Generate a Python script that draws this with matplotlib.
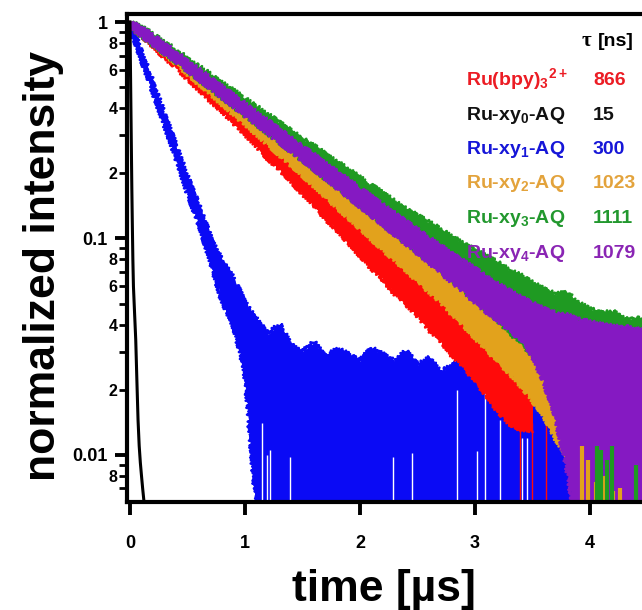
import matplotlib

matplotlib.use("Agg")
import matplotlib.pyplot as plt
from matplotlib.ticker import FixedLocator, FixedFormatter

plt.rcParams["font.family"] = ["Liberation Sans", "DejaVu Sans"]
plt.rcParams["font.weight"] = "bold"
plt.rcParams["mathtext.fontset"] = "custom"
plt.rcParams["mathtext.rm"] = "Liberation Sans:bold"
plt.rcParams["mathtext.it"] = "Liberation Sans:bold"
plt.rcParams["mathtext.bf"] = "Liberation Sans:bold"
plt.rcParams["mathtext.default"] = "rm"

# --- decay traces (time in us, normalized intensity) ---
# each noisy trace is kept as an upper and a lower envelope

T_BLACK = [0, 0.004, 0.008, 0.012, 0.016, 0.02, 0.025, 0.03, 0.04, 0.05,
           0.06, 0.07, 0.08, 0.09, 0.10, 0.11, 0.12]
BLACK = [1.0, 0.62, 0.4, 0.26, 0.17, 0.12, 0.08, 0.06, 0.045, 0.034,
         0.022, 0.0145, 0.011, 0.0092, 0.008, 0.007, 0.0062]

T_BLUE = [0.0, 0.1, 0.2, 0.3, 0.4, 0.5, 0.6, 0.7, 0.8, 0.9,
          1.0, 1.1, 1.2, 1.3, 1.4, 1.5, 1.6, 1.7, 1.8, 1.9,
          2.0, 2.1, 2.2, 2.3, 2.4, 2.5, 2.6, 2.7, 2.8, 2.9,
          3.0, 3.1, 3.2, 3.3, 3.4, 3.5, 3.6, 3.7, 3.8, 3.9, 4.0]
BLUE_HI = [1.0, 0.72, 0.52, 0.37, 0.265, 0.19, 0.14, 0.1, 0.078, 0.065,
           0.05, 0.042, 0.036, 0.04, 0.032, 0.03, 0.033, 0.028, 0.031, 0.029,
           0.027, 0.031, 0.029, 0.027, 0.03, 0.026, 0.028, 0.024, 0.026, 0.027,
           0.023, 0.025, 0.024, 0.021, 0.024, 0.022, 0.02, 0.022, 0.019, 0.02, 0.017]
BLUE_LO = [0.97, 0.68, 0.48, 0.34, 0.24, 0.165, 0.118, 0.08, 0.052, 0.04,
           0.025, 0.006, 0.004, 0.004, 0.004, 0.004, 0.004, 0.004, 0.004, 0.004,
           0.004, 0.004, 0.004, 0.004, 0.004, 0.004, 0.004, 0.004, 0.004, 0.004,
           0.004, 0.004, 0.004, 0.004, 0.004, 0.004, 0.004, 0.004, 0.004, 0.004, 0.004]
# dropped-out channels in the blue tail (white gaps)
BLUE_GAP_T = [1.15, 1.19, 1.22, 1.39, 2.29, 2.45, 2.84, 3.02, 3.09, 3.22, 3.41, 3.45]
BLUE_GAP_TOP = [0.014, 0.01, 0.0105, 0.0098, 0.0098, 0.0102, 0.02, 0.0104, 0.022,
                0.0145, 0.012, 0.012]

T_RED = T_BLUE[:36]
RED_HI = [1.0, 0.92, 0.82, 0.74, 0.66, 0.59, 0.53, 0.475, 0.43, 0.38,
          0.345, 0.31, 0.275, 0.25, 0.225, 0.2, 0.182, 0.16, 0.146, 0.132,
          0.118, 0.104, 0.097, 0.085, 0.078, 0.07, 0.062, 0.057, 0.05, 0.047,
          0.041, 0.039, 0.034, 0.033, 0.03, 0.028]
RED_LO = [0.96, 0.87, 0.78, 0.69, 0.62, 0.55, 0.49, 0.435, 0.39, 0.345,
          0.305, 0.27, 0.235, 0.21, 0.185, 0.162, 0.144, 0.124, 0.11, 0.096,
          0.084, 0.073, 0.065, 0.056, 0.05, 0.044, 0.038, 0.034, 0.029, 0.026,
          0.022, 0.019, 0.016, 0.014, 0.013, 0.013]
# red channels that drop to zero near the end of the trace
RED_DROP_T = [3.39, 3.5, 3.62]

T_LONG = T_BLUE + [4.1, 4.2, 4.3, 4.4, 4.5]

T_ORANGE = T_LONG[:44]
ORANGE_HI = [1.0, 0.93, 0.84, 0.76, 0.685, 0.62, 0.56, 0.505, 0.46, 0.415,
             0.375, 0.34, 0.31, 0.28, 0.252, 0.23, 0.207, 0.188, 0.17, 0.154,
             0.14, 0.126, 0.115, 0.104, 0.094, 0.086, 0.078, 0.071, 0.064, 0.058,
             0.052, 0.047, 0.042, 0.038, 0.034, 0.029, 0.025, 0.021, 0.018, 0.013,
             0.011, 0.009, 0.0085, 0.007]
ORANGE_LO = [0.96, 0.88, 0.795, 0.715, 0.645, 0.58, 0.52, 0.47, 0.42, 0.378,
             0.34, 0.305, 0.274, 0.245, 0.22, 0.197, 0.176, 0.157, 0.14, 0.125,
             0.112, 0.1, 0.089, 0.08, 0.072, 0.064, 0.057, 0.051, 0.045, 0.04,
             0.035, 0.031, 0.027, 0.024, 0.021, 0.018, 0.015, 0.012, 0.01, 0.006,
             0.004, 0.004, 0.004, 0.004]
# late orange counts poking out at the bottom of the purple trace
ORANGE_SPIKE_T = [3.93, 3.98, 4.05, 4.12, 4.2, 4.26]
ORANGE_SPIKE_TOP = [0.011, 0.0095, 0.0075, 0.008, 0.0068, 0.007]

T_GREEN = T_LONG
GREEN_HI = [1.0, 0.95, 0.875, 0.805, 0.74, 0.675, 0.62, 0.57, 0.52, 0.48,
            0.44, 0.405, 0.372, 0.342, 0.313, 0.288, 0.266, 0.244, 0.225, 0.207,
            0.19, 0.175, 0.161, 0.148, 0.136, 0.127, 0.118, 0.11, 0.101, 0.095,
            0.088, 0.082, 0.077, 0.071, 0.067, 0.062, 0.058, 0.055, 0.056, 0.05,
            0.047, 0.045, 0.046, 0.042, 0.043, 0.04]
GREEN_LO = [0.95, 0.87, 0.79, 0.72, 0.655, 0.6, 0.545, 0.495, 0.45, 0.41,
            0.372, 0.338, 0.307, 0.28, 0.254, 0.231, 0.21, 0.19, 0.173, 0.157,
            0.142, 0.129, 0.117, 0.106, 0.096, 0.087, 0.079, 0.071, 0.064, 0.058,
            0.052, 0.047, 0.042, 0.037, 0.033, 0.029, 0.025, 0.021, 0.017, 0.012,
            0.008, 0.005, 0.004, 0.004, 0.004, 0.004]
GREEN_SPIKE_T = [4.06, 4.1, 4.15, 4.19, 4.4]
GREEN_SPIKE_TOP = [0.011, 0.0105, 0.0095, 0.011, 0.009]

T_PURPLE = T_LONG
PURPLE_HI = [1.0, 0.94, 0.865, 0.79, 0.722, 0.657, 0.6, 0.547, 0.5, 0.456,
             0.416, 0.38, 0.347, 0.317, 0.289, 0.264, 0.242, 0.221, 0.202, 0.185,
             0.169, 0.155, 0.142, 0.13, 0.119, 0.109, 0.1, 0.092, 0.085, 0.078,
             0.072, 0.066, 0.061, 0.057, 0.053, 0.05, 0.047, 0.045, 0.044, 0.042,
             0.041, 0.04, 0.039, 0.039, 0.038, 0.037]
PURPLE_LO = [0.95, 0.875, 0.795, 0.725, 0.66, 0.6, 0.545, 0.497, 0.452, 0.41,
             0.373, 0.339, 0.308, 0.28, 0.254, 0.231, 0.21, 0.19, 0.172, 0.156,
             0.141, 0.128, 0.116, 0.105, 0.095, 0.086, 0.078, 0.07, 0.063, 0.057,
             0.051, 0.046, 0.042, 0.038, 0.034, 0.029, 0.022, 0.015, 0.009, 0.004,
             0.004, 0.004, 0.004, 0.004, 0.004, 0.004]

NAMES = [r"Ru(bpy)$_{3}{}^{2+}$", r"Ru-xy$_{0}$-AQ", r"Ru-xy$_{1}$-AQ",
         r"Ru-xy$_{2}$-AQ", r"Ru-xy$_{3}$-AQ", r"Ru-xy$_{4}$-AQ"]
TAUS = ["866", "15", "300", "1023", "1111", "1079"]

Y_MAJOR = [0.01, 0.1, 1]
Y_MAJOR_LABELS = ["0.01", "0.1", "1"]
Y_MINOR = [0.007, 0.008, 0.009,
           0.02, 0.03, 0.04, 0.05, 0.06, 0.07, 0.08, 0.09,
           0.2, 0.3, 0.4, 0.5, 0.6, 0.7, 0.8, 0.9]
Y_MINOR_LABELS = ["", "8", "",
                  "2", "", "4", "", "6", "", "8", "",
                  "2", "", "4", "", "6", "", "8", ""]
X_TICKS = [0, 1, 2, 3, 4]

RED = "#ff0a0a"
BLUE = "#0a0af5"
ORANGE = "#e2a21c"
GREEN = "#1f9a22"
PURPLE = "#8519c2"
TEXT_COLORS = ["#ec1c24", "#111111", "#1616d8", "#e3a33c", "#22982e", "#8a25b4"]

W, H = 642, 610


def band(ax, t, lo, hi, color, z):
    # solid band plus jittery edges so it reads like a photon-counting trace
    ax.fill_between(t, lo, hi, color=color, lw=0, zorder=z)
    for edge in (hi, lo):
        (ln,) = ax.plot(t, edge, color=color, lw=1.8, zorder=z)
        ln.set_sketch_params(scale=2.5, length=3, randomness=2)


fig = plt.figure(figsize=(W / 100, H / 100), dpi=100)
ax = fig.add_axes([127 / W, 1 - 502 / H, (659 - 127) / W, (502 - 14) / H])

band(ax, T_BLUE, BLUE_LO, BLUE_HI, BLUE, 1)
ax.vlines(BLUE_GAP_T, 0.004, BLUE_GAP_TOP, color="white", lw=1.0, zorder=1.5)
band(ax, T_RED, RED_LO, RED_HI, RED, 2)
ax.vlines(RED_DROP_T, 0.004, 0.014, color=RED, lw=1.0, zorder=2)
band(ax, T_ORANGE, ORANGE_LO, ORANGE_HI, ORANGE, 3)
band(ax, T_GREEN, GREEN_LO, GREEN_HI, GREEN, 4)
band(ax, T_PURPLE, PURPLE_LO, PURPLE_HI, PURPLE, 5)
ax.vlines(ORANGE_SPIKE_T, 0.004, ORANGE_SPIKE_TOP, color=ORANGE, lw=3, zorder=5.5)
ax.vlines(GREEN_SPIKE_T, 0.004, GREEN_SPIKE_TOP, color=GREEN, lw=3, zorder=5.5)
ax.plot(T_BLACK, BLACK, color="black", lw=2.2, zorder=6)

ax.set_yscale("log")
ax.set_xlim(-0.026, 4.6)
ax.set_ylim(0.00605, 1.09)

for side in ("left", "bottom", "top"):
    ax.spines[side].set_linewidth(3)
    ax.spines[side].set_zorder(10)
ax.spines["right"].set_visible(False)

ax.xaxis.set_major_locator(FixedLocator(X_TICKS))
ax.xaxis.set_major_formatter(FixedFormatter([str(v) for v in X_TICKS]))
ax.yaxis.set_major_locator(FixedLocator(Y_MAJOR))
ax.yaxis.set_major_formatter(FixedFormatter(Y_MAJOR_LABELS))
ax.yaxis.set_minor_locator(FixedLocator(Y_MINOR))
ax.yaxis.set_minor_formatter(FixedFormatter(Y_MINOR_LABELS))

ax.tick_params(axis="both", which="major", direction="out", length=9, width=2.8,
               labelsize=13, pad=5)
ax.tick_params(axis="y", which="minor", direction="out", length=5.5, width=2,
               labelsize=11.5, pad=1.5)
ax.tick_params(axis="x", which="major", pad=15)
for lab in ax.get_xticklabels() + ax.get_yticklabels() + ax.get_yticklabels(minor=True):
    lab.set_fontweight("bold")

fig.text(44 / W, 1 - 266 / H, "normalized intensity", rotation=90, ha="center",
         va="center", fontsize=32, fontweight="bold")
fig.text(384 / W, 1 - 601 / H, "time [\u00b5s]", ha="center", va="baseline",
         fontsize=32, fontweight="bold")

fig.text(582 / W, 1 - 46 / H, "\u03c4", ha="left", va="baseline", fontsize=15,
         family=["Liberation Serif", "DejaVu Serif"])
fig.text(598 / W, 1 - 46 / H, "[ns]", ha="left", va="baseline", fontsize=14,
         fontweight="bold")
for i, (name, tau, col) in enumerate(zip(NAMES, TAUS, TEXT_COLORS)):
    yb = 1 - (85 + 34.5 * i) / H
    fig.text(466 / W, yb, name, color=col, ha="left", va="baseline",
             fontsize=14, fontweight="bold")
    fig.text(593 / W, yb, tau, color=col, ha="left", va="baseline",
             fontsize=14, fontweight="bold")

fig.savefig("out.png", dpi=100)
